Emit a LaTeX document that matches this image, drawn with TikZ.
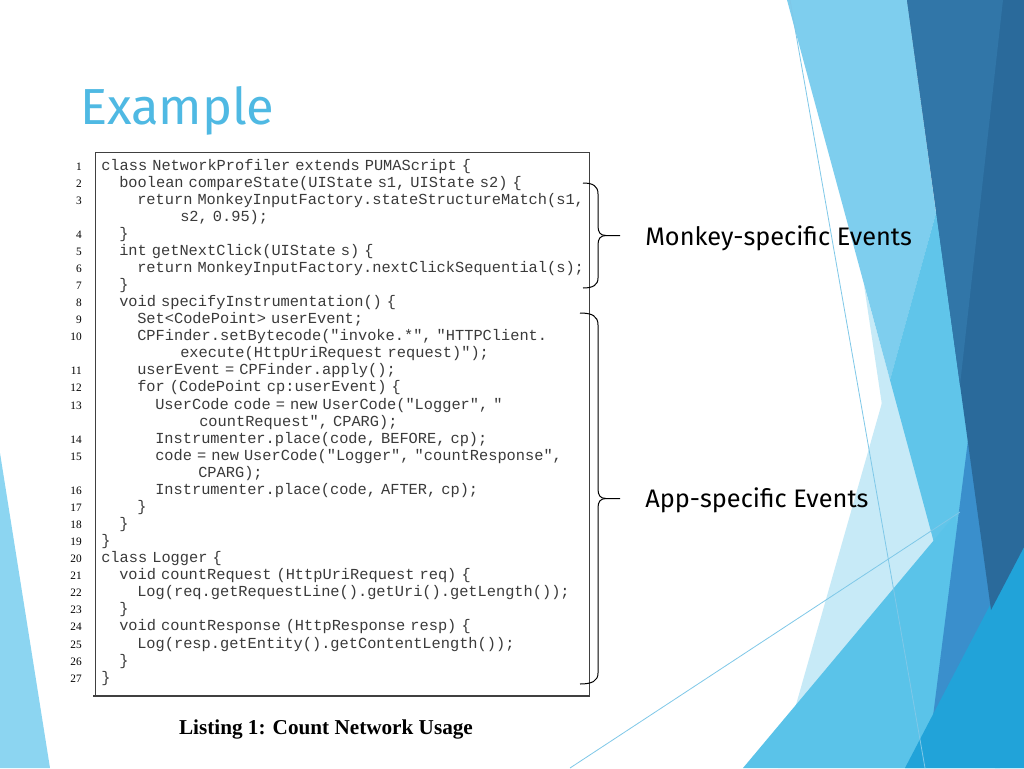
\documentclass[tikz,border=0pt]{standalone}
\usepackage{fontspec}
\setmainfont{Liberation Serif}
\newfontfamily\codefont{Liberation Mono}[WordSpace=0.55]
\newfontfamily\slidefont{Fira Sans}
\definecolor{pale}{HTML}{C7EAF7}
\definecolor{lightsky}{HTML}{7ECEEE}
\definecolor{medblue}{HTML}{60C5EA}
\definecolor{medblueB}{HTML}{5AC3E9}
\definecolor{bandblue}{HTML}{3A8FCC}
\definecolor{brightblue}{HTML}{21A3D9}
\definecolor{darkblue}{HTML}{2A6A9B}
\definecolor{darkblueL}{HTML}{3176A8}
\definecolor{leftblue}{HTML}{8CD5F1}
\definecolor{thinline}{HTML}{7FC8E8}
\definecolor{titleblue}{HTML}{4FB9E3}
\definecolor{codegrey}{HTML}{3A3A3A}
\definecolor{boxgrey}{HTML}{404040}
\tikzset{
  code/.style={font=\codefont\fontsize{11.5}{12}\selectfont, anchor=base west, inner sep=0pt, text=codegrey},
  lnum/.style={font=\fontsize{8.5}{9}\selectfont, anchor=base east, inner sep=0pt, text=black},
  label/.style={font=\slidefont\fontsize{19}{22}\selectfont, anchor=base west, inner sep=0pt, text=black},
  bracepath/.style={draw=black, line width=0.75pt},
  facet/.style={draw=none}
}
\begin{document}
\begin{tikzpicture}[x=0.75pt,y=-0.75pt]
\useasboundingbox (0,0) rectangle (1024,768);
\fill[white] (0,0) rectangle (1024,768);
% left triangle
\fill[leftblue] (0,453) -- (50,768) -- (0,768) -- cycle;
% right facets
\fill[pale] (936,213) -- (778,768) -- (1024,768) -- (1024,400) -- cycle;
\fill[pale] (864,285) -- (882,405) -- (890,380) -- cycle;
\fill[lightsky] (787,0) -- (907,0) -- (936,213) -- (890,380) -- cycle;
\fill[medblue] (936,213) -- (890,380) -- (995,768) -- (1024,768) -- (1024,213) -- cycle;
\fill[medblueB] (743,768) -- (955,515) -- (1000,768) -- cycle;
\fill[bandblue] (968,440) -- (930,740) -- (992,612) -- cycle;
\fill[brightblue] (1024,540) -- (905,768) -- (1024,768) -- cycle;
\fill[darkblue] (907,0) -- (1024,0) -- (1024,547) -- (991,610) -- cycle;
\fill[darkblueL] (907,0) -- (1003,0) -- (960,385) -- cycle;
\draw[thinline, line width=0.6pt] (790,0) -- (925,768);
\draw[thinline, line width=0.6pt] (570,768) -- (960,512);
% title
\node[font=\slidefont\fontsize{38}{44}\selectfont, text=titleblue, anchor=base west, inner sep=0pt] (title) at (80,124) {Example};
% listing box
\draw[boxgrey, line width=0.75pt] (95,696) -- (95,152) -- (589,152) -- (589,696);
\draw[boxgrey, line width=1.2pt] (93,696) -- (590,696);
% line numbers
\node[lnum] (n1) at (82,170.0) {1};
\node[lnum] (n2) at (82,187.1) {2};
\node[lnum] (n3) at (82,204.1) {3};
\node[lnum] (n4) at (82,238.3) {4};
\node[lnum] (n5) at (82,255.4) {5};
\node[lnum] (n6) at (82,272.4) {6};
\node[lnum] (n7) at (82,289.5) {7};
\node[lnum] (n8) at (82,306.6) {8};
\node[lnum] (n9) at (82,323.6) {9};
\node[lnum] (n10) at (82,340.7) {10};
\node[lnum] (n11) at (82,374.8) {11};
\node[lnum] (n12) at (82,391.9) {12};
\node[lnum] (n13) at (82,409.0) {13};
\node[lnum] (n14) at (82,443.1) {14};
\node[lnum] (n15) at (82,460.2) {15};
\node[lnum] (n16) at (82,494.3) {16};
\node[lnum] (n17) at (82,511.4) {17};
\node[lnum] (n18) at (82,528.5) {18};
\node[lnum] (n19) at (82,545.5) {19};
\node[lnum] (n20) at (82,562.6) {20};
\node[lnum] (n21) at (82,579.7) {21};
\node[lnum] (n22) at (82,596.8) {22};
\node[lnum] (n23) at (82,613.8) {23};
\node[lnum] (n24) at (82,630.9) {24};
\node[lnum] (n25) at (82,648.0) {25};
\node[lnum] (n26) at (82,665.0) {26};
\node[lnum] (n27) at (82,682.1) {27};
% code lines
\node[code] (c1) at (101,170.0) {class NetworkProfiler extends PUMAScript \{};
\node[code] (c2) at (119,187.1) {boolean compareState(UIState s1, UIState s2) \{};
\node[code] (c3) at (137,204.1) {return MonkeyInputFactory.stateStructureMatch(s1,};
\node[code] (c3b) at (180,221.2) {s2, 0.95);};
\node[code] (c4) at (119,238.3) {\}};
\node[code] (c5) at (119,255.4) {int getNextClick(UIState s) \{};
\node[code] (c6) at (137,272.4) {return MonkeyInputFactory.nextClickSequential(s);};
\node[code] (c7) at (119,289.5) {\}};
\node[code] (c8) at (119,306.6) {void specifyInstrumentation() \{};
\node[code] (c9) at (137,323.6) {Set<CodePoint> userEvent;};
\node[code] (c10) at (137,340.7) {CPFinder.setBytecode("invoke.*", "HTTPClient.};
\node[code] (c10b) at (180,357.8) {execute(HttpUriRequest request)");};
\node[code] (c11) at (137,374.8) {userEvent = CPFinder.apply();};
\node[code] (c12) at (137,391.9) {for (CodePoint cp:userEvent) \{};
\node[code] (c13) at (155,409.0) {UserCode code = new UserCode("Logger", "};
\node[code] (c13b) at (199,426.1) {countRequest", CPARG);};
\node[code] (c14) at (155,443.1) {Instrumenter.place(code, BEFORE, cp);};
\node[code] (c15) at (155,460.2) {code = new UserCode("Logger", "countResponse",};
\node[code] (c15b) at (198,477.3) {CPARG);};
\node[code] (c16) at (155,494.3) {Instrumenter.place(code, AFTER, cp);};
\node[code] (c17) at (137,511.4) {\}};
\node[code] (c18) at (119,528.5) {\}};
\node[code] (c19) at (101,545.5) {\}};
\node[code] (c20) at (101,562.6) {class Logger \{};
\node[code] (c21) at (119,579.7) {void countRequest (HttpUriRequest req) \{};
\node[code] (c22) at (137,596.8) {Log(req.getRequestLine().getUri().getLength());};
\node[code] (c23) at (119,613.8) {\}};
\node[code] (c24) at (119,630.9) {void countResponse (HttpResponse resp) \{};
\node[code] (c25) at (137,648.0) {Log(resp.getEntity().getContentLength());};
\node[code] (c26) at (119,665.0) {\}};
\node[code] (c27) at (101,682.1) {\}};
% caption
\node[font=\bfseries\fontsize{15.9}{18}\selectfont, anchor=base, inner sep=0pt] (caption) at (326,734) {Listing 1: Count Network Usage};
% braces
\draw[bracepath] (583,183) .. controls (593,183) and (598,186) .. (598,194) -- (598,226)
  .. controls (598,232) and (600,235.5) .. (606,235.5) -- (620,235.5);
\draw[bracepath] (606,235.5) .. controls (600,235.5) and (598,239) .. (598,245) -- (598,278)
  .. controls (598,285) and (593,288) .. (583,288);
\draw[bracepath] (580,313) .. controls (592,313) and (598,316) .. (598,325) -- (598,489)
  .. controls (598,495) and (600,498.5) .. (606,498.5) -- (620,498.5);
\draw[bracepath] (606,498.5) .. controls (600,498.5) and (598,502) .. (598,508) -- (598,673)
  .. controls (598,681) and (592,684) .. (580,684);
% labels
\node[label] (monkey) at (645,245) {Monkey-specific Events};
\node[label] (app) at (645,507) {App-specific Events};
\end{tikzpicture}
\end{document}
